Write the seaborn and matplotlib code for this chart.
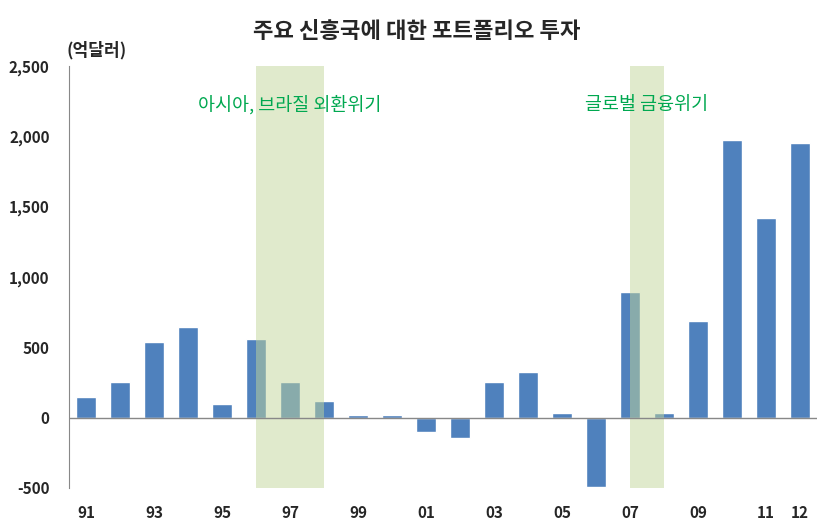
import numpy as np
import pandas as pd
import seaborn as sns
import matplotlib.pyplot as plt

years = ['91', '92', '93', '94', '95', '96', '97', '98', '99', '00', '01',
         '02', '03', '04', '05', '06', '07', '08', '09', '10', '11', '12']
values = [150, 250, 540, 645, 100, 560, 255, 115, 20, 20, -100,
          -145, 255, 325, 30, -490, 890, 30, 685, 1975, 1420, 1950]
shown_ticks = ['91', '93', '95', '97', '99', '01', '03', '05', '07', '09', '11', '12']
crisis_spans = [('96', '98'), ('07', '08')]
crisis_labels = ['아시아, 브라질 외환위기', '글로벌 금융위기']

sns.set_style('white')
plt.rcParams['font.family'] = ['Noto Sans CJK KR', 'DejaVu Sans']

df = pd.DataFrame({'year': years, 'value': values})

fig = plt.figure(figsize=(8.34, 5.31), dpi=100)
ax = fig.add_axes([0.0827, 0.081, 0.897, 0.795])

sns.barplot(data=df, x='year', y='value', order=years, color='#4F81BD',
            saturation=1, width=0.6, ax=ax)

# crisis shading drawn over the bars
for (a, b), lab in zip(crisis_spans, crisis_labels):
    x0, x1 = years.index(a), years.index(b)
    ax.axvspan(x0, x1, color='#C2D69B', alpha=0.5, lw=0, zorder=3)
    ax.text((x0 + x1) / 2, 2220, lab, ha='center', va='center',
            color='#00A850', fontsize=13.3)

ax.axhline(0, color='#888888', lw=1, zorder=4)
ax.set_xlim(-0.5, len(years) - 0.5)
ax.set_ylim(-500, 2500)
ax.set_yticks(range(-500, 2501, 500))
ax.set_yticklabels([f'{v:,}' for v in range(-500, 2501, 500)],
                   fontweight='bold', fontsize=11)
ax.set_xticks([years.index(t) for t in shown_ticks])
ax.set_xticklabels(shown_ticks, fontweight='bold', fontsize=11)
ax.tick_params(axis='x', length=0, pad=12)
ax.tick_params(axis='y', direction='in', length=4, color='#888888', pad=14)
ax.set_xlabel('')
ax.set_ylabel('')

for s in ['top', 'right', 'bottom']:
    ax.spines[s].set_visible(False)
ax.spines['left'].set_color('#888888')

fig.text(0.5, 0.94, '주요 신흥국에 대한 포트폴리오 투자', ha='center', va='center',
         fontsize=16, fontweight='bold')
fig.text(0.08, 0.905, '(억달러)', ha='left', va='center', fontsize=12.3,
         fontweight='bold')

fig.savefig('out.png', dpi=100)
